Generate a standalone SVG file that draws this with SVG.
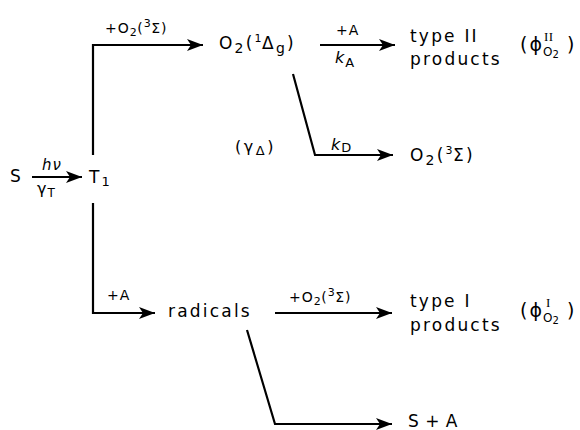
<svg xmlns="http://www.w3.org/2000/svg" width="580" height="430" viewBox="0 0 580 430">
<defs>
<marker id="ah" markerUnits="userSpaceOnUse" markerWidth="18" markerHeight="14" refX="16" refY="6" orient="auto">
<path d="M0,0 L16,6 L0,12 L4,6 z" fill="#000"/>
</marker>
<style>
text{font-family:"DejaVu Sans","Liberation Sans",sans-serif;fill:#000}
.m{font-size:17px;letter-spacing:2.2px}
.l{font-size:14px;letter-spacing:1px}
.sm{font-size:11px;letter-spacing:0.5px}
.c{fill:none;stroke:#000;stroke-width:2.2}
</style>
</defs>
<rect width="580" height="430" fill="#fff"/>
<g id="connectors">
<line class="c" x1="32" y1="177" x2="82" y2="177" marker-end="url(#ah)"/>
<polyline class="c" points="93,155 93,45 203,45" marker-end="url(#ah)"/>
<polyline class="c" points="93,203 93,313 155,313" marker-end="url(#ah)"/>
<line class="c" x1="320" y1="45" x2="395" y2="45" marker-end="url(#ah)"/>
<polyline class="c" points="293,74 315,155 393,155" marker-end="url(#ah)"/>
<line class="c" x1="275" y1="313" x2="392" y2="313" marker-end="url(#ah)"/>
<polyline class="c" points="247,330 275,424 392,424" marker-end="url(#ah)"/>
</g>
<g id="n-S"><text class="m" x="10" y="182">S</text></g>
<g id="l-hv"><text class="l" x="42" y="170" style="font-size:15px;font-style:italic">hν</text></g>
<g id="l-gT"><text class="l" x="37" y="194" style="font-size:16px">γ<tspan style="font-size:12px" dy="3">T</tspan></text></g>
<g id="n-T1"><text class="m" x="89" y="183">T<tspan style="font-size:13px" dy="3">1</tspan></text></g>
<g id="l-top"><text class="l" x="105" y="33">+O<tspan class="sm" dy="3">2</tspan><tspan dy="-3">(</tspan><tspan class="sm" dy="-6">3</tspan><tspan dy="6">Σ)</tspan></text></g>
<g id="n-O2D"><text class="m" x="219" y="49">O<tspan style="font-size:14px" dy="4">2</tspan><tspan dy="-4">(</tspan><tspan class="sm" dy="-7">1</tspan><tspan dy="7">Δ</tspan><tspan style="font-size:14px" dy="4">g</tspan><tspan dy="-4">)</tspan></text></g>
<g id="l-pA"><text class="l" x="336" y="35">+A</text></g>
<g id="l-kA"><text class="l" x="335" y="63" style="font-size:16px"><tspan style="font-style:italic">k</tspan><tspan style="font-size:13px" dy="4">A</tspan></text></g>
<g id="n-typeII"><text class="m" x="410" y="42">type II</text><text class="m" x="410" y="65">products</text></g>
<g id="l-phiII"><text class="m" x="520" y="51" style="font-size:19px">(ϕ</text><text x="544" y="41" style="font-family:'Liberation Serif',serif;font-size:13px;letter-spacing:0.5px">II</text><text x="543" y="56" style="font-size:12px">O<tspan style="font-size:10px" dy="2">2</tspan></text><text class="m" x="567" y="51" style="font-size:19px">)</text></g>
<g id="l-gD"><text class="l" x="235" y="152" style="font-size:16px;letter-spacing:2.5px">(γ<tspan style="font-size:13px" dy="3">Δ</tspan><tspan dy="-3">)</tspan></text></g>
<g id="l-kD"><text class="l" x="331" y="150" style="font-size:16px"><tspan style="font-style:italic">k</tspan><tspan style="font-size:13px" dy="2">D</tspan></text></g>
<g id="n-O2S"><text class="m" x="410" y="161">O<tspan style="font-size:14px" dy="4">2</tspan><tspan dy="-4">(</tspan><tspan class="sm" dy="-7">3</tspan><tspan dy="7">Σ)</tspan></text></g>
<g id="l-pA2"><text class="l" x="107" y="300">+A</text></g>
<g id="n-rad"><text class="m" x="168" y="317">radicals</text></g>
<g id="l-low"><text class="l" x="289" y="302">+O<tspan class="sm" dy="3">2</tspan><tspan dy="-3">(</tspan><tspan class="sm" dy="-6">3</tspan><tspan dy="6">Σ)</tspan></text></g>
<g id="n-typeI"><text class="m" x="410" y="307">type I</text><text class="m" x="410" y="331">products</text></g>
<g id="l-phiI"><text class="m" x="520" y="317" style="font-size:19px">(ϕ</text><text x="546" y="307" style="font-family:'Liberation Serif',serif;font-size:13px">I</text><text x="543" y="322" style="font-size:12px">O<tspan style="font-size:10px" dy="2">2</tspan></text><text class="m" x="567" y="317" style="font-size:19px">)</text></g>
<g id="n-SA"><text class="m" x="408" y="427" style="letter-spacing:0.5px">S + A</text></g>
</svg>
